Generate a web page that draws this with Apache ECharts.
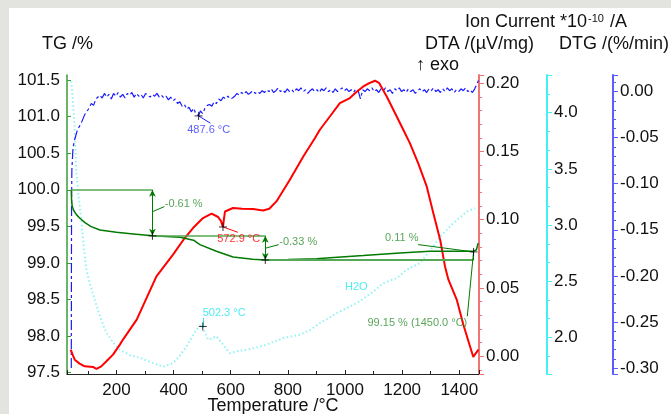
<!DOCTYPE html>
<html>
<head>
<meta charset="utf-8">
<script src="https://cdn.jsdelivr.net/npm/echarts@6/dist/echarts.min.js"></script>
<style>
html, body { margin: 0; padding: 0; background: #e3e4df; }
#panel { position: absolute; left: 9px; top: 8px; width: 662px; height: 406px; background: #fff; }
#chart { position: absolute; left: 0; top: 0; width: 671px; height: 414px; }
</style>
</head>
<body>
<div id="panel"></div>
<div id="chart"></div>
<script>
// 字体
const FONT = 'Liberation Sans, Arial, sans-serif';

// 曲线数据 [温度 °C, 值]
const tgCurve = [[42, 100.00], [43, 99.86], [45, 99.78], [50, 99.72], [60, 99.66], [72, 99.61], [90, 99.55],
    [110, 99.50], [142, 99.45], [200, 99.42], [250, 99.40], [326, 99.37], [422, 99.35], [470, 99.31],
    [492, 99.25], [550, 99.16], [608, 99.08], [677, 99.05], [721, 99.04], [800, 99.045], [900, 99.055],
    [948, 99.07], [1064, 99.10], [1192, 99.135], [1297, 99.16], [1450, 99.16], [1460, 99.18], [1466, 99.27]];

const dtaCurve = [[40, 0.0048], [47, 0.0010], [54, -0.0025], [71, -0.0054], [89, -0.0074], [118, -0.0078],
    [130, -0.0093], [147, -0.0074], [165, -0.0037], [188, 0.0012], [212, 0.0085], [223, 0.0122],
    [271, 0.0268], [340, 0.0585], [358, 0.0634], [398, 0.0744], [439, 0.0866], [468, 0.0939],
    [503, 0.1012], [533, 0.1044], [556, 0.1020], [566, 0.0990], [572.9, 0.0947], [576, 0.1000],
    [580, 0.1060], [585, 0.1073], [608, 0.1086], [640, 0.1080], [678, 0.1078], [713, 0.1068],
    [735, 0.1080], [760, 0.1134], [807, 0.1293], [854, 0.1463], [895, 0.1598], [912, 0.1659],
    [947, 0.1756], [982, 0.1854], [1017, 0.1891], [1040, 0.1935], [1064, 0.1976], [1085, 0.2000],
    [1105, 0.2018], [1120, 0.2000], [1146, 0.1903], [1181, 0.1756], [1204, 0.1659], [1227, 0.1561],
    [1256, 0.1415], [1286, 0.1244], [1309, 0.1049], [1333, 0.0854], [1350, 0.0658], [1362, 0.0561],
    [1391, 0.0415], [1414, 0.0232], [1449, -0.0005], [1467, 0.0048]];

const ionCurve = [[42, 4.28], [48, 4.10], [54, 3.85], [60, 3.46], [68, 3.25], [77, 3.05], [86, 2.80],
    [95, 2.60], [107, 2.48], [124, 2.335], [145, 2.17], [165, 2.04], [190, 1.95], [212, 1.89],
    [250, 1.84], [282, 1.82], [320, 1.78], [363, 1.74], [397, 1.77], [420, 1.83], [445, 1.92],
    [480, 2.07], [498, 2.11], [510, 2.04], [521, 1.98], [550, 2.01], [575, 1.93], [597, 1.86],
    [625, 1.88], [655, 1.89], [690, 1.91], [725, 1.935], [784, 1.995], [842, 2.024], [880, 2.07],
    [912, 2.128], [971, 2.217], [1041, 2.306], [1090, 2.39], [1134, 2.483], [1181, 2.528],
    [1216, 2.602], [1262, 2.661], [1300, 2.78], [1333, 2.898], [1379, 3.017], [1426, 3.12], [1455, 3.15]];

const dtgCurve = [[42, -0.300], [42.5, -0.200], [43, -0.120], [44, -0.085], [48, -0.061], [54, -0.052],
    [63, -0.042], [77, -0.034], [89, -0.025], [100, -0.020], [112, -0.013], [120, -0.015], [128, -0.008],
    [135, -0.010], [142, -0.004], [150, -0.007], [158, -0.002], [166, -0.006], [174, -0.003], [182, -0.008],
    [190, -0.002], [198, -0.005], [206, -0.001], [214, -0.006], [222, -0.003], [230, -0.007], [238, -0.002],
    [246, -0.004], [254, -0.001], [262, -0.006], [270, -0.002], [278, -0.005], [286, -0.003], [294, -0.007],
    [302, -0.002], [310, -0.004], [318, -0.006], [326, -0.003], [334, -0.005], [342, -0.002], [350, -0.006],
    [358, -0.004], [366, -0.007], [374, -0.005], [382, -0.009], [390, -0.006], [398, -0.010], [406, -0.008],
    [414, -0.013], [422, -0.011], [430, -0.016], [438, -0.014], [446, -0.019], [454, -0.017], [462, -0.022],
    [470, -0.018], [478, -0.024], [487.6, -0.026], [494, -0.021], [502, -0.024], [510, -0.018], [518, -0.015],
    [526, -0.014], [534, -0.016], [542, -0.011], [550, -0.013], [558, -0.008], [566, -0.010], [574, -0.006],
    [582, -0.008], [590, -0.005], [598, -0.008], [606, -0.007], [614, -0.005], [622, -0.002], [630, -0.004],
    [638, -0.001], [646, -0.003], [654, 0.000], [662, -0.003], [670, -0.001], [678, 0.001], [686, -0.002],
    [694, 0.000], [702, -0.002], [710, 0.001], [718, -0.001], [726, 0.002], [734, 0.000], [742, 0.003],
    [750, -0.001], [758, 0.001], [766, 0.004], [774, 0.000], [782, 0.002], [790, -0.001], [798, 0.003],
    [806, 0.000], [814, 0.002], [822, -0.001], [830, 0.003], [838, 0.001], [846, 0.004], [854, 0.000],
    [862, 0.002], [870, -0.002], [878, 0.001], [886, 0.003], [894, 0.000], [902, 0.002], [910, -0.001],
    [918, 0.003], [926, 0.001], [934, 0.004], [942, 0.000], [950, 0.002], [958, -0.001], [966, 0.003],
    [974, 0.000], [982, 0.002], [990, 0.004], [998, 0.001], [1006, 0.003], [1014, 0.000], [1022, 0.002],
    [1030, -0.001], [1038, 0.003], [1046, 0.001], [1054, -0.008], [1062, 0.002], [1070, 0.000], [1078, 0.003],
    [1086, 0.001], [1094, 0.004], [1102, 0.000], [1110, 0.002], [1118, -0.001], [1126, 0.003], [1134, 0.001],
    [1142, 0.004], [1150, 0.000], [1158, 0.002], [1166, -0.002], [1174, 0.003], [1182, 0.001], [1190, 0.004],
    [1198, 0.000], [1206, 0.002], [1214, -0.001], [1222, 0.003], [1230, 0.000], [1238, 0.002], [1246, -0.002],
    [1254, 0.001], [1262, 0.003], [1270, 0.000], [1278, 0.002], [1286, -0.001], [1294, 0.003], [1302, 0.001],
    [1310, 0.004], [1318, 0.000], [1326, 0.002], [1334, -0.001], [1342, 0.003], [1350, 0.000], [1358, 0.004],
    [1366, 0.001], [1374, 0.003], [1382, -0.001], [1390, 0.002], [1398, 0.000], [1406, 0.003], [1414, 0.001],
    [1422, 0.004], [1430, 0.000], [1438, 0.002], [1446, -0.001], [1454, 0.003], [1460, 0.005], [1467, 0.012]];

// 失重台阶
const stepTemps = [42, 326, 721, 1450];
const stepLevels = [100.0, 99.37, 99.04, 99.15];
const stepTexts = ['-0.61 %', '-0.33 %', '0.11 %'];
const stepTextAt = [[369, 99.81], [770, 99.28], [1140, 99.34]];
const stepLeaders = [[[326, 99.70], [368, 99.77]], [[721, 99.20], [768, 99.25]], [[1450, 99.15], [1256, 99.25]]];
const residueText = '99.15 % (1450.0 °C)';
const residueAt = [1428, 98.18];
const residueLeader = [[1450, 99.15], [1428, 98.27]];

// 峰值标注
const dtgPeak = [487.6, -0.0264];
const dtgPeakText = '487.6 °C';
const dtgPeakTextAt = [523, -0.0416];
const dtgPeakLeader = [[487.6, -0.0264], [529, -0.0343]];

const dtaPeak = [572.9, 0.0947];
const dtaPeakText = '572.9 °C';
const dtaPeakTextAt = [628, 0.0859];
const dtaPeakLeader = [[572.9, 0.0947], [625, 0.0908]];

const ionPeak = [502.3, 2.098];
const ionPeakText = '502.3 °C';
const ionPeakTextAt = [502, 2.222];
const ionPeakLeader = [[502.3, 2.098], [502.3, 2.175]];
const ionName = 'H2O';
const ionNameAt = [1000, 2.453];

// 颜色
const GREEN = '#007a00';
const GREEN_AXIS = '#3a9d3a';
const GREEN_STEP = '#55a855';
const GREEN_TEXT = '#2f8f2f';
const RED = '#ff0000';
const RED_AXIS = '#f07474';
const CYAN = '#84f2f2';
const CYAN_AXIS = '#44f0f0';
const CYAN_TEXT = '#22e8f0';
const BLUE = '#1a1aff';
const BLUE_AXIS = '#5c5cff';
const BLUE_TEXT = '#3535ff';

const CROSS = 'path://M0,5L10,5M5,0L5,10';

const chart = echarts.init(document.getElementById('chart'));

/**
 * 生成台阶线
 */
function buildStepLines() {
    const lines = [];
    for (let i = 0; i < 3; i++) {
        lines.push([
            { coord: [stepTemps[i], stepLevels[i]], lineStyle: { color: GREEN_STEP, width: i === 2 ? 2.2 : 1.5, type: 'solid' } },
            { coord: [stepTemps[i + 1], stepLevels[i]] }
        ]);
        const arrow = i < 2 ? 'arrow' : 'none';
        lines.push([
            { coord: [stepTemps[i + 1], stepLevels[i]], symbol: arrow, lineStyle: { color: GREEN, width: 1, type: 'solid' } },
            { coord: [stepTemps[i + 1], stepLevels[i + 1]], symbol: arrow }
        ]);
    }
    stepLeaders.concat([residueLeader]).forEach(l => {
        lines.push([{ coord: l[0], lineStyle: { color: GREEN, width: 1, type: 'solid' } }, { coord: l[1] }]);
    });
    return lines;
}

function leader(pair, color) {
    return [{ coord: pair[0], lineStyle: { color: color, width: 1, type: 'solid' } }, { coord: pair[1] }];
}

function markLineOf(data) {
    return {
        silent: true,
        symbol: ['none', 'none'],
        symbolSize: [5, 7],
        label: { show: false },
        lineStyle: { type: 'solid' },
        emphasis: { disabled: true },
        animation: false,
        data: data
    };
}

function textPoint(text, at, align, color) {
    return {
        name: text,
        value: at,
        label: { align: align, color: color }
    };
}

function labelSeries(yIndex, items) {
    return {
        type: 'scatter',
        yAxisIndex: yIndex,
        symbolSize: 0,
        silent: true,
        z: 6,
        label: {
            show: true,
            position: 'inside',
            verticalAlign: 'middle',
            fontFamily: FONT,
            fontSize: 11,
            formatter: p => p.name
        },
        data: items
    };
}

function crossSeries(yIndex, points) {
    return {
        type: 'scatter',
        yAxisIndex: yIndex,
        symbol: CROSS,
        symbolSize: 8,
        silent: true,
        z: 7,
        itemStyle: { color: '#000', borderColor: '#000', borderWidth: 1 },
        data: points
    };
}

function valueAxis(opts) {
    return Object.assign({
        type: 'value',
        scale: true,
        splitLine: { show: false },
        axisLine: { show: true, onZero: false, lineStyle: { color: opts.color, width: 2 } },
        axisTick: { show: true, length: 5, lineStyle: { color: opts.color } },
        minorTick: { show: true, splitNumber: opts.minor || 5, length: 3, lineStyle: { color: opts.color } },
        axisLabel: {
            color: '#111',
            fontFamily: FONT,
            fontSize: 17,
            margin: 7,
            showMinLabel: false,
            showMaxLabel: false,
            formatter: v => v.toFixed(opts.digits)
        }
    }, opts.extra || {});
}

const option = {
    animation: false,
    backgroundColor: 'transparent',
    grid: { left: 67, right: 192, top: 75, bottom: 40, containLabel: false, outerBoundsMode: 'none' },
    xAxis: {
        type: 'value',
        min: 27,
        max: 1469,
        splitNumber: 7,
        splitLine: { show: false },
        axisLine: { onZero: false, lineStyle: { color: '#222', width: 1 } },
        axisTick: { inside: true, length: 4, lineStyle: { color: '#222' } },
        minorTick: { show: true, splitNumber: 2, length: 3, lineStyle: { color: '#222' } },
        axisLabel: {
            color: '#111', fontFamily: FONT, fontSize: 17, margin: 8,
            showMinLabel: false, showMaxLabel: false,
            formatter: v => String(Math.round(v))
        },
        name: 'Temperature /°C',
        nameLocation: 'middle',
        nameGap: 23,
        nameMoveOverlap: false,
        nameTextStyle: { color: '#111', fontFamily: FONT, fontSize: 18 }
    },
    yAxis: [
        valueAxis({
            color: GREEN_AXIS, digits: 1,
            extra: {
                position: 'left', min: 97.48, max: 101.57, splitNumber: 8,
                axisLine: { show: true, onZero: false, lineStyle: { color: GREEN_AXIS, width: 1.5 } },
                axisTick: { show: true, inside: true, length: 4, lineStyle: { color: GREEN_AXIS } },
                minorTick: { show: false }
            }
        }),
        valueAxis({
            color: RED_AXIS, digits: 2, minor: 5,
            extra: { position: 'right', offset: 0, min: -0.013, max: 0.206, splitNumber: 4 }
        }),
        valueAxis({
            color: CYAN_AXIS, digits: 1, minor: 3,
            extra: { position: 'right', offset: 68, min: 1.675, max: 4.335, splitNumber: 5 }
        }),
        valueAxis({
            color: BLUE_AXIS, digits: 2, minor: 5,
            extra: { position: 'right', offset: 134, min: -0.3065, max: 0.018, splitNumber: 6 }
        })
    ],
    graphic: [
        { type: 'text', left: 42, top: 35, style: { text: 'TG /%', font: '18px ' + FONT, fill: '#111' } },
        {
            type: 'text', left: 465, top: 13,
            style: {
                text: 'Ion Current *10{sup|-10} /A',
                font: '18px ' + FONT,
                fill: '#111',
                rich: { sup: { fontSize: 11, fontFamily: FONT, verticalAlign: 'top', padding: [0, 1, 8, 1] } }
            }
        },
        { type: 'text', left: 425, top: 35, style: { text: 'DTA /(µV/mg)', font: '18px ' + FONT, fill: '#111' } },
        { type: 'text', left: 416, top: 56, style: { text: '↑ exo', font: '18px ' + FONT, fill: '#111' } },
        { type: 'text', left: 559, top: 35, style: { text: 'DTG /(%/min)', font: '18px ' + FONT, fill: '#111' } }
    ],
    series: [
        {
            name: 'Ion',
            type: 'line',
            yAxisIndex: 2,
            data: ionCurve,
            showSymbol: false,
            z: 2,
            lineStyle: { color: CYAN, width: 2, type: [1.5, 2.5], opacity: 0.9 },
            markLine: markLineOf([leader(ionPeakLeader, CYAN_TEXT)])
        },
        {
            name: 'DTG',
            type: 'line',
            yAxisIndex: 3,
            data: dtgCurve,
            showSymbol: false,
            z: 3,
            lineStyle: { color: BLUE, width: 1.2, type: [10, 3, 3, 3] },
            markLine: markLineOf([leader(dtgPeakLeader, BLUE)])
        },
        {
            name: 'DTA',
            type: 'line',
            yAxisIndex: 1,
            data: dtaCurve,
            showSymbol: false,
            z: 3,
            lineStyle: { color: RED, width: 2 },
            markLine: markLineOf([leader(dtaPeakLeader, RED)])
        },
        {
            name: 'TG',
            type: 'line',
            yAxisIndex: 0,
            data: tgCurve,
            showSymbol: false,
            z: 4,
            lineStyle: { color: GREEN, width: 1.5 },
            markLine: markLineOf(buildStepLines())
        },
        crossSeries(0, stepTemps.slice(1, 3).map((t, i) => [t, stepLevels[i + 1]]).concat([[stepTemps[3], stepLevels[3]]])),
        crossSeries(1, [dtaPeak]),
        crossSeries(2, [ionPeak]),
        crossSeries(3, [dtgPeak]),
        labelSeries(0, stepTexts.map((t, i) => textPoint(t, stepTextAt[i], 'left', GREEN_TEXT))
            .concat([textPoint(residueText, residueAt, 'right', GREEN_TEXT)])),
        labelSeries(1, [textPoint(dtaPeakText, dtaPeakTextAt, 'center', RED)]),
        labelSeries(2, [textPoint(ionPeakText, ionPeakTextAt, 'left', CYAN_TEXT),
            textPoint(ionName, ionNameAt, 'left', CYAN_TEXT)]),
        labelSeries(3, [textPoint(dtgPeakText, dtgPeakTextAt, 'center', BLUE_TEXT)])
    ]
};

chart.setOption(option);
</script>
</body>
</html>
